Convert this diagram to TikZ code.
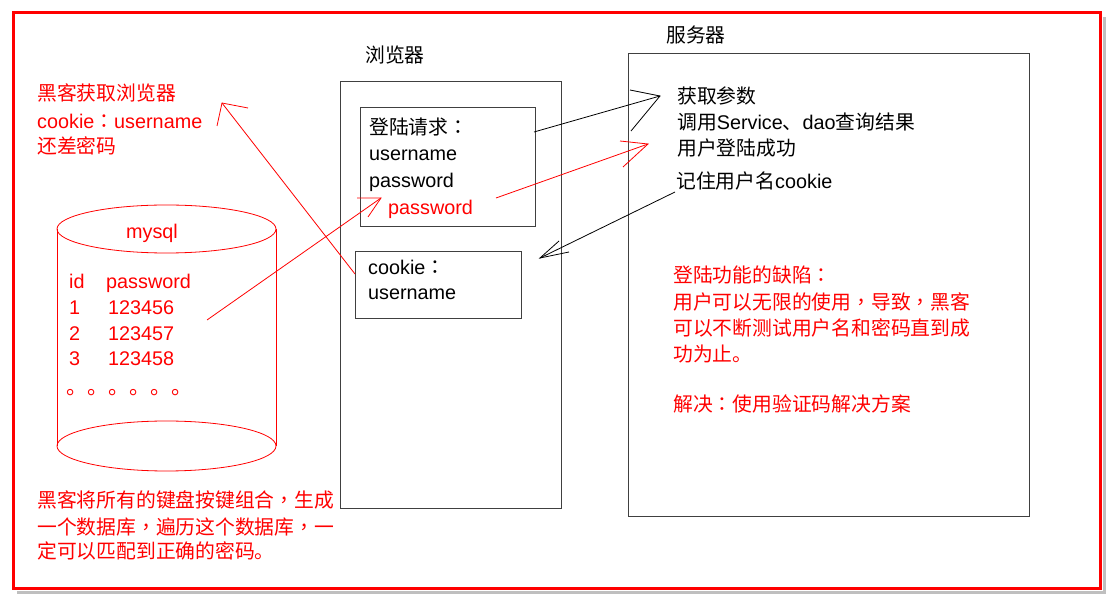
\documentclass[tikz,border=0pt]{standalone}
\usepackage{fontspec}
\setmainfont{Liberation Sans}
\newfontfamily\zhfont{Noto Sans CJK SC}
\newfontfamily\zhpfont{Noto Sans CJK TC}
\newcommand\zh[1]{{\zhfont #1}}
\newcommand\cp{{\zhpfont ：}}
\newcommand\cm{{\zhpfont ，}}
\definecolor{hred}{RGB}{255,0,0}
\definecolor{boxgray}{RGB}{64,64,64}
\begin{document}
\begin{tikzpicture}[x=1pt,y=-1pt,
  box/.style={draw=boxgray, line width=1.2pt, inner sep=0pt, anchor=north west},
  txt/.style={anchor=base west, inner sep=0pt, yshift=-1.5pt, font=\fontsize{19.8}{26}\selectfont},
  redtxt/.style={txt, text=hred},
  blkln/.style={draw=black, line width=0.8pt},
  redln/.style={draw=hred, line width=0.8pt}]
\useasboundingbox (0,0) rectangle (1112,601);
% frame with shadow
\draw[black!25, line width=3pt] (17,592) -- (1104,592) -- (1104,17);
\draw[hred, line width=3pt] (13,13) rectangle (1100,588);

% browser and server
\node[box, minimum width=221pt, minimum height=427pt] (browser) at (340,81) {};
\node[txt] (browserlbl) at (365,61) {\zh{浏览器}};
\node[box, minimum width=401pt, minimum height=463pt] (server) at (628,53) {};
\node[txt] (serverlbl) at (666,41) {\zh{服务器}};

% login box
\node[box, minimum width=175pt, minimum height=119pt] (login) at (360,107) {};
\node[txt] (l1) at (369,133) {\zh{登陆请求}\cp};
\node[txt] (l2) at (369,159) {username};
\node[txt] (l3) at (369,186) {password};
\node[redtxt] (l4) at (388,213) {password};

% cookie box
\node[box, minimum width=166pt, minimum height=67pt] (cookiebox) at (355,251) {};
\node[txt] (c1) at (368,273) {cookie\cp};
\node[txt] (c2) at (368,298) {username};

% server text
\node[txt] (s1) at (677,102) {\zh{获取参数}};
\node[txt] (s2) at (677,128) {\zh{调用}Service\zh{、}dao\zh{查询结果}};
\node[txt] (s3) at (677,154) {\zh{用户登陆成功}};
\node[txt] (s4) at (676,187) {\zh{记住用户名}cookie};
\node[redtxt] (r1) at (673,281) {\zh{登陆功能的缺陷}\cp};
\node[redtxt] (r2) at (673,308) {\zh{用户可以无限的使用}\cm\zh{导致}\cm\zh{黑客}};
\node[redtxt] (r3) at (673,334) {\zh{可以不断测试用户名和密码直到成}};
\node[redtxt] (r4) at (673,360) {\zh{功为止。}};
\node[redtxt] (r5) at (673,410) {\zh{解决}\cp\zh{使用验证码解决方案}};

% hacker text top left
\node[redtxt] (h1) at (37,99) {\zh{黑客获取浏览器}};
\node[redtxt] (h2) at (37,127) {cookie\cp username};
\node[redtxt] (h3) at (37,152) {\zh{还差密码}};

% cylinder
\draw[redln] (166.5,229) ellipse [x radius=109.5, y radius=24];
\draw[redln] (166.5,446) ellipse [x radius=109.5, y radius=25];
\draw[redln] (57,229) -- (57,446);
\draw[redln] (276,229) -- (276,446);
\node[redtxt, anchor=base] (mysql) at (152,237) {mysql};
\node[redtxt] (d0a) at (69,287) {id};
\node[redtxt] (d0b) at (106,287) {password};
\node[redtxt] (d1a) at (69,313) {1};
\node[redtxt] (d1b) at (108,313) {123456};
\node[redtxt] (d2a) at (69,339) {2};
\node[redtxt] (d2b) at (108,339) {123457};
\node[redtxt] (d3a) at (69,364) {3};
\node[redtxt] (d3b) at (108,364) {123458};
\node[redtxt, font=\fontsize{21}{26}\selectfont] (dots) at (66,393) {\zh{。。。。。。}};

% bottom text
\node[redtxt] (b1) at (37,506) {\zh{黑客将所有的键盘按键组合}\cm\zh{生成}};
\node[redtxt] (b2) at (37,533) {\zh{一个数据库}\cm\zh{遍历这个数据库}\cm\zh{一}};
\node[redtxt] (b3) at (37,557) {\zh{定可以匹配到正确的密码。}};

% arrow coordinates
\coordinate (a1s) at (534,132); \coordinate (a1t) at (660,96);
\coordinate (a1h1) at (630,90); \coordinate (a1h2) at (631,131);
\coordinate (a2s) at (496,198); \coordinate (a2t) at (648,144);
\coordinate (a2h1) at (620,141); \coordinate (a2h2) at (623,167);
\coordinate (a3s) at (675,192); \coordinate (a3t) at (540,258);
\coordinate (a3h1) at (559,241); \coordinate (a3h2) at (569,252);
\coordinate (a4s) at (207,320); \coordinate (a4t) at (381,198);
\coordinate (a4h1) at (357,198); \coordinate (a4h2) at (368,217);
\coordinate (a5s) at (355,274); \coordinate (a5t) at (222,103);
\coordinate (a5h1) at (248,108); \coordinate (a5h2) at (217,126);

\draw[blkln] (a1s) -- (a1t); \draw[blkln] (a1h1) -- (a1t) -- (a1h2);
\draw[redln] (a2s) -- (a2t); \draw[redln] (a2h1) -- (a2t) -- (a2h2);
\draw[blkln] (a3s) -- (a3t); \draw[blkln] (a3h1) -- (a3t) -- (a3h2);
\draw[redln] (a4s) -- (a4t); \draw[redln] (a4h1) -- (a4t) -- (a4h2);
\draw[redln] (a5s) -- (a5t); \draw[redln] (a5h1) -- (a5t) -- (a5h2);
\end{tikzpicture}
\end{document}
